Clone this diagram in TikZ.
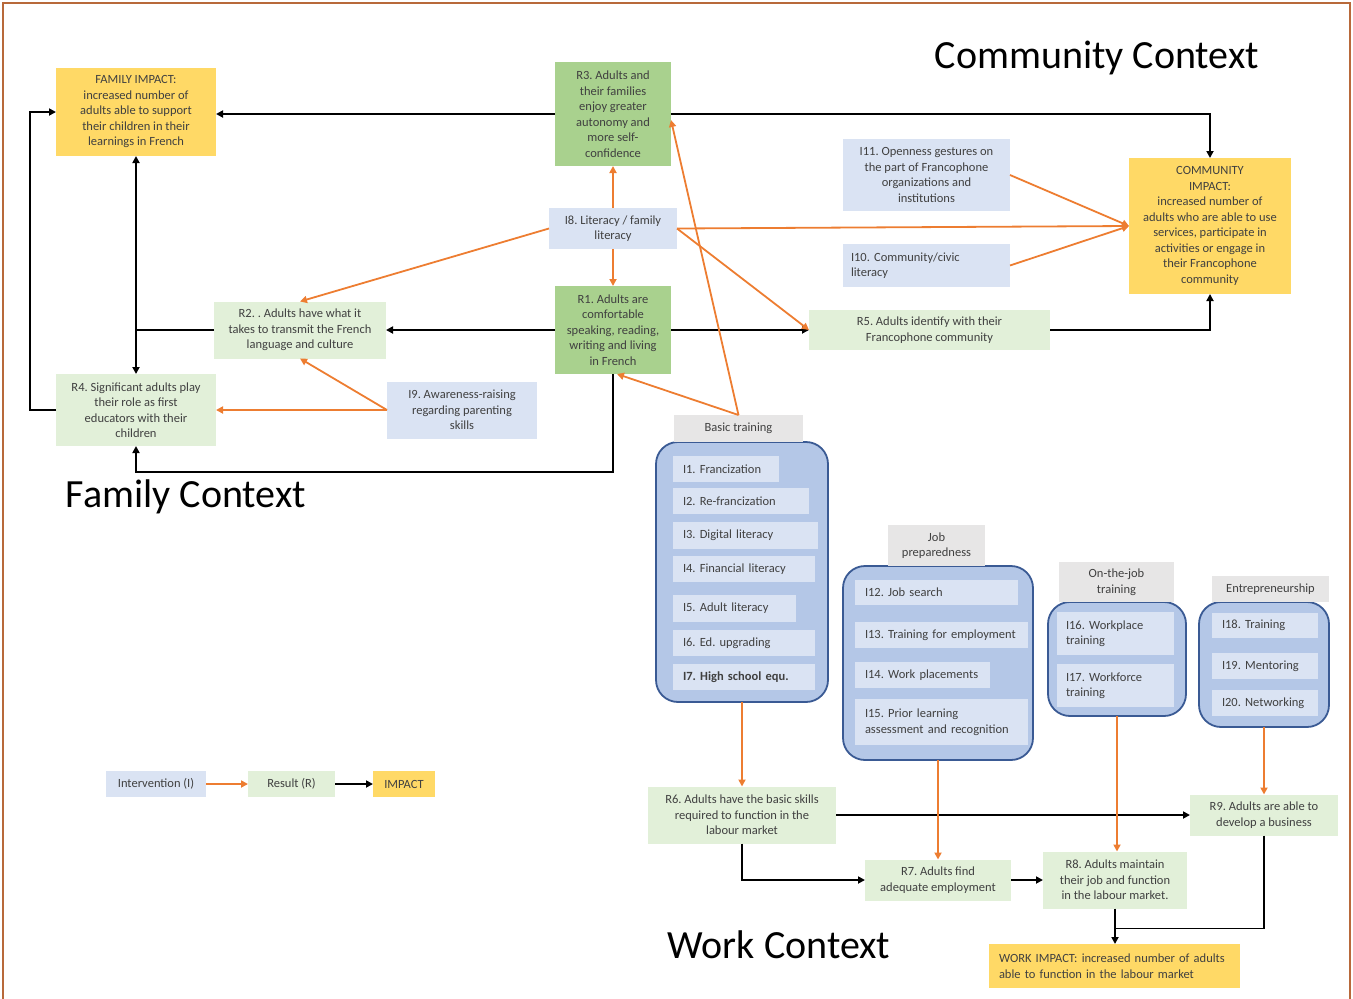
\documentclass[tikz,border=0pt]{standalone}
\usepackage{fontspec}
\setmainfont{Carlito}
\usetikzlibrary{arrows.meta,calc}
\frenchspacing

\definecolor{impactgold}{HTML}{FFD966}
\definecolor{resultdark}{HTML}{A9D18E}
\definecolor{resultpale}{HTML}{E2F0D9}
\definecolor{intervpale}{HTML}{DAE3F3}
\definecolor{groupfill}{HTML}{B4C7E7}
\definecolor{groupline}{HTML}{3A5A94}
\definecolor{tabgray}{HTML}{E7E6E6}
\definecolor{linkorange}{HTML}{ED7D31}
\definecolor{bodytext}{HTML}{404040}
\definecolor{framebrown}{HTML}{B8693A}

\tikzset{
  txt/.style={inner sep=0pt, outer sep=0pt, text=bodytext, align=center,
    font=\fontsize{12.5}{15.5}\selectfont,
    execute at begin node={\hyphenpenalty=10000\exhyphenpenalty=10000}},
  sz/.style 2 args={minimum width=#1pt, minimum height=#2pt},
  impact/.style={txt, fill=impactgold},
  keyresult/.style={txt, fill=resultdark},
  result/.style={txt, fill=resultpale},
  interv/.style={txt, fill=intervpale},
  tabhead/.style={txt, fill=tabgray},
  clusterbox/.style={txt, fill=groupfill, draw=groupline, line width=1.8pt, rounded corners=22pt},
  listitem/.style={txt, fill=intervpale, anchor=west, align=left, inner xsep=10pt},
  heading/.style={inner sep=0pt, outer sep=0pt, text=black, font=\fontsize{40}{48}\selectfont},
  blk/.style={draw=black, line width=1.8pt, -{Triangle[length=7pt,width=7pt]}},
  blkjoin/.style={draw=black, line width=1.8pt},
  org/.style={draw=linkorange, line width=1.8pt, -{Triangle[length=7pt,width=7pt]}},
}

\begin{document}
\begin{tikzpicture}[x=1pt,y=-1pt]
\useasboundingbox (0,0) rectangle (1353,999);
% outer frame
\draw[framebrown, line width=2pt] (3,1010) -- (3,3) -- (1350,3) -- (1350,1010);

% headings
\node[heading] (hcom) at (1097,58) {Community Context};
\node[heading] (hfam) at (186,497) {Family Context};
\node[heading] (hwork) at (779,945) {Work Context};

% family and community results
\node[impact, sz={160}{88}] (FI) at (136,112) {FAMILY IMPACT:\\increased number of\\adults able to support\\their children in their\\learnings in French};
\node[keyresult, sz={116}{104}] (R3) at (613,114) {R3. Adults and\\their families\\enjoy greater\\autonomy and\\more self-\\confidence};
\node[interv, sz={128}{41}] (I8) at (613,228.5) {I8. Literacy / family\\literacy};
\node[keyresult, sz={116}{88}] (R1) at (613,330) {R1. Adults are\\comfortable\\speaking, reading,\\writing and living\\in French};
\node[result, sz={172}{57}] (R2) at (300,330) {R2. . Adults have what it\\takes to transmit the French\\language and culture};
\node[result, sz={160}{72}] (R4) at (136,410) {R4. Significant adults play\\their role as first\\educators with their\\children};
\node[interv, sz={150}{57}] (I9) at (462,410) {I9. Awareness-raising\\regarding parenting\\skills};
\node[interv, sz={167}{72}] (I11) at (926.5,175) {I11. Openness gestures on\\the part of Francophone\\organizations and\\institutions};
\node[interv, anchor=west, align=left, inner xsep=8pt, text width=151pt, minimum height=43pt] (I10) at (843,265.5) {I10. Community/civic\\literacy};
\node[impact, sz={162}{136}] (CI) at (1210,226) {COMMUNITY\\IMPACT:\\increased number of\\adults who are able to use\\services, participate in\\activities or engage in\\their Francophone\\community};
\node[result, sz={241}{40}] (R5) at (929.5,330) {R5. Adults identify with their\\Francophone community};

% intervention groups
\node[clusterbox, sz={172}{260}] (BT) at (742,572) {};
\node[tabhead, sz={129}{27}] (BTl) at (738.5,428.5) {Basic training};
\node[listitem, text width=86pt, minimum height=26pt] (I1) at (673,469) {I1. Francization};
\node[listitem, text width=116pt, minimum height=26pt] (I2) at (673,501) {I2. Re-francization};
\node[listitem, text width=125pt, minimum height=27pt] (I3) at (673,535.5) {I3. Digital literacy};
\node[listitem, text width=122pt, minimum height=26pt] (I4) at (673,569) {I4. Financial literacy};
\node[listitem, text width=103pt, minimum height=27pt] (I5) at (673,608.5) {I5. Adult literacy};
\node[listitem, text width=122pt, minimum height=26pt] (I6) at (673,643) {I6. Ed. upgrading};
\node[listitem, text width=122pt, minimum height=26pt] (I7) at (673,677) {\textbf{I7. High school equ.}};

\node[clusterbox, sz={190}{194}] (JP) at (938,663) {};
\node[tabhead, sz={97}{41}] (JPl) at (936.5,545.5) {Job\\preparedness};
\node[listitem, text width=143pt, minimum height=25pt] (I12) at (855,592.5) {I12. Job search};
\node[listitem, text width=153pt, minimum height=26pt] (I13) at (855,635) {I13. Training for employment};
\node[listitem, text width=115pt, minimum height=26pt] (I14) at (855,675) {I14. Work placements};
\node[listitem, text width=153pt, minimum height=46pt] (I15) at (855,722) {I15. Prior learning\\assessment and recognition};

\node[clusterbox, sz={138}{114}] (OJ) at (1117,659) {};
\node[tabhead, sz={115}{40}] (OJl) at (1116.5,582) {On-the-job\\training};
\node[listitem, inner xsep=9pt, text width=99pt, minimum height=43pt] (I16) at (1057,633.5) {I16. Workplace\\training};
\node[listitem, inner xsep=9pt, text width=99pt, minimum height=43pt] (I17) at (1057,685.5) {I17. Workforce\\training};

\node[clusterbox, sz={130}{125}] (EN) at (1264,664.5) {};
\node[tabhead, sz={117}{26}] (ENl) at (1270.5,589) {Entrepreneurship};
\node[listitem, text width=86pt, minimum height=25pt] (I18) at (1212,625.5) {I18. Training};
\node[listitem, text width=86pt, minimum height=26pt] (I19) at (1212,666) {I19. Mentoring};
\node[listitem, text width=86pt, minimum height=26pt] (I20) at (1212,703) {I20. Networking};

% work results
\node[result, sz={188}{57}] (R6) at (742,815) {R6. Adults have the basic skills\\required to function in the\\labour market};
\node[result, sz={148}{41}] (R9) at (1264,815) {R9. Adults are able to\\develop a business};
\node[result, sz={146}{41}] (R7) at (938,880) {R7. Adults find\\adequate employment};
\node[result, sz={144}{57}] (R8) at (1115,880) {R8. Adults maintain\\their job and function\\in the labour market.};
\node[impact, anchor=west, align=left, inner xsep=10pt, text width=231pt, minimum height=44pt] (WI) at (989,966) {WORK IMPACT: increased number of adults\\able to function in the labour market};

% legend
\node[interv, sz={100}{26}] (LI) at (156,784) {Intervention (I)};
\node[result, sz={87}{26}] (LR) at (291.5,784) {Result (R)};
\node[impact, sz={62}{26}] (LM) at (404,784) {IMPACT};

% black links: results towards impacts
\draw[blk] (R3.west) -- (R3.west -| FI.east);
\draw[blk] (R3.east) -| (CI.north);
\coordinate (famjoin) at (R2.west -| FI.south);
\draw[blk] (R2.west) -- (famjoin) -- (FI.south);
\draw[blk] (famjoin) -- (famjoin |- R4.north);
\draw[blk] (R4.west) -- ++(-26,0) |- (FI.west);
\draw[blk] (R1.west) -- (R1.west -| R2.east);
\draw[blk] (R1.east) -- (R1.east -| R5.west);
\draw[blk] (R1.south) -- ++(0,98) -| (R4.south);
\draw[blk] (R5.east) -| (CI.south);
\draw[blk] (R6.east) -- (R6.east -| R9.west);
\draw[blk] (R6.south) |- (R7.west);
\draw[blk] (R7.east) -- (R7.east -| R8.west);
\draw[blk] (R8.south) -- (R8.south |- WI.north);
\coordinate (workjoin) at ($(R8.south)+(0,20)$);
\draw[blkjoin] (R9.south) |- (workjoin);
\draw[blk] (LR.east) -- (LM.west);

% orange links: interventions towards results
\draw[org] (I8.north) -- (R3.south);
\draw[org] (I8.south) -- (R1.north);
\draw[org] (I8.west) -- (R2.north);
\draw[org] (I8.east) -- (CI.west);
\draw[org] (I8.east) -- (R5.west);
\draw[org] (I11.east) -- (CI.west);
\draw[org] (I10.east) -- (CI.west);
\draw[org] (I9.west) -- (I9.west -| R4.east);
\draw[org] (I9.west) -- (R2.south);
\draw[org] (BTl.north) -- ([yshift=-6pt]R3.east);
\draw[org] (BTl.north) -- ([xshift=4pt]R1.south);
\draw[org] (BT.south) -- (BT.south |- R6.north);
\draw[org] (JP.south) -- (JP.south |- R7.north);
\draw[org] (OJ.south) -- (OJ.south |- R8.north);
\draw[org] (EN.south) -- (EN.south |- R9.north);
\draw[org] (LI.east) -- (LR.west);
\end{tikzpicture}
\end{document}
